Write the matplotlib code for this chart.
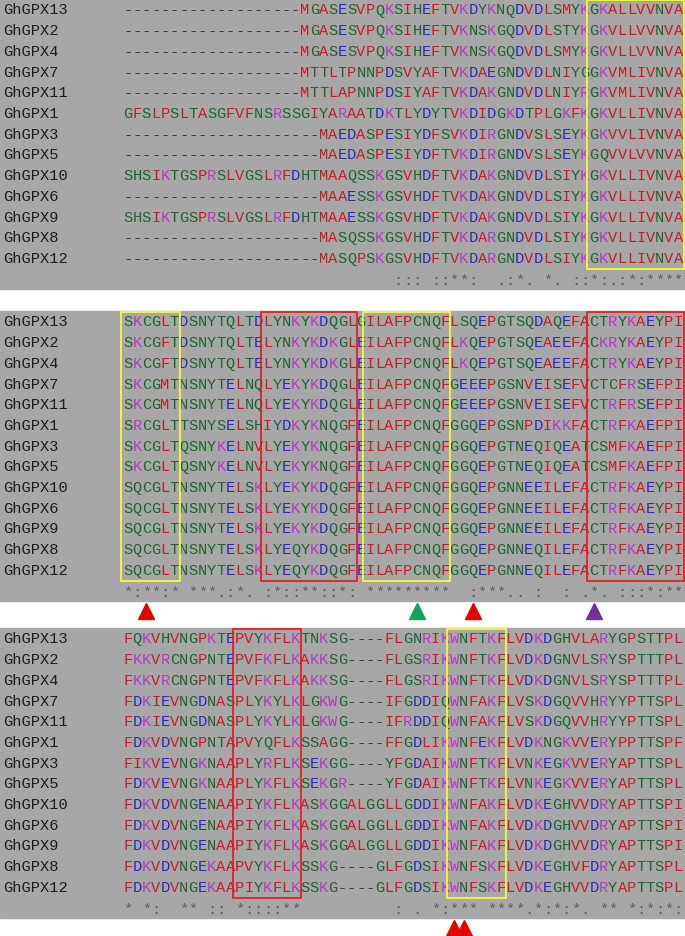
import matplotlib
matplotlib.use('Agg')
import matplotlib.pyplot as plt
from matplotlib.patches import Rectangle

# 序列名称（三段共用）
names = ['GhGPX13', 'GhGPX2', 'GhGPX4', 'GhGPX7', 'GhGPX11', 'GhGPX1', 'GhGPX3',
         'GhGPX5', 'GhGPX10', 'GhGPX6', 'GhGPX9', 'GhGPX8', 'GhGPX12']

# 第一段比对
block1 = [
    '-' * 19 + 'MGASESVPQKSIHEFTVKDYKNQDVDLSMYKGKALLVVNVA',
    '-' * 19 + 'MGASESVPQKSIHEFTVKNSKGQDVDLSTYKGKVLLVVNVA',
    '-' * 19 + 'MGASESVPQKSIHEFTVKNSKGQDVDLSMYKGKVLLVVNVA',
    '-' * 19 + 'MTTLTPNNPDSVYAFTVKDAEGNDVDLNIYGGKVMLIVNVA',
    '-' * 19 + 'MTTLAPNNPDSIYAFTVKDAKGNDVDLNIYRGKVMLIVNVA',
    'GFSLPSLTASGFVFNSRSSGIYARAATDKTLYDYTVKDIDGKDTPLGKFKGKVLLIVNVA',
    '-' * 21 + 'MAEDASPESIYDFSVKDIRGNDVSLSEYKGKVVLIVNVA',
    '-' * 21 + 'MAEDASPESIYDFTVKDIRGNDVSLSEYKGQVVLVVNVA',
    'SHSIKTGSPRSLVGSLRFDHTMAAQSSKGSVHDFTVKDAKGNDVDLSIYKGKVLLIVNVA',
    '-' * 21 + 'MAAESSKGSVHDFTVKDAKGNDVDLSIYKGKVLLIVNVA',
    'SHSIKTGSPRSLVGSLRFDHTMAAESSKGSVHDFTVKDAKGNDVDLSIYKGKVLLIVNVA',
    '-' * 21 + 'MASQSSKGSVHDFTVKDARGNDVDLSIYKGKVLLIVNVA',
    '-' * 21 + 'MASQPSKGSVHDFTVKDARGNDVDLSIYKGKVLLIVNVA',
]
cons1 = ' ' * 29 + '::: ::**:  .:*. *. ::*:.:*:****'

# 第二段比对
block2 = [
    'SKCGLTDSNYTQLTDLYNKYKDQGLGILAFPCNQFLSQEPGTSQDAQEFACTRYKAEYPI',
    'SKCGFTDSNYTQLTELYNKYKDKGLEILAFPCNQFLKQEPGTSQEAEEFACKRYKAEYPI',
    'SKCGFTDSNYTQLTELYNKYKDKGLEILAFPCNQFLKQEPGTSQEAEEFACTRYKAEYPI',
    'SKCGMTNSNYTELNQLYEKYKDQGLEILAFPCNQFGEEEPGSNVEISEFVCTCFRSEFPI',
    'SKCGMTNSNYTELNQLYEKYKDQGLEILAFPCNQFGEEEPGSNVEISEFVCTRFRSEFPI',
    'SRCGLTTSNYSELSHIYDKYKNQGFEILAFPCNQFGGQEPGSNPDIKKFACTRFKAEFPI',
    'SKCGLTQSNYKELNVLYEKYKNQGFEILAFPCNQFGGQEPGTNEQIQEATCSMFKAEFPI',
    'SKCGLTQSNYKELNVLYEKYKNQGFEILAFPCNQFGGQEPGTNEQIQEATCSMFKAEFPI',
    'SQCGLTNSNYTELSKLYEKYKDQGFEILAFPCNQFGGQEPGNNEEILEFACTRFKAEYPI',
    'SQCGLTNSNYTELSKLYEKYKDQGFEILAFPCNQFGGQEPGNNEEILEFACTRFKAEYPI',
    'SQCGLTNSNYTELSKLYEKYKDQGFEILAFPCNQFGGQEPGNNEEILEFACTRFKAEYPI',
    'SQCGLTNSNYTELSKLYEQYKDQGFEILAFPCNQFGGQEPGNNEQILEFACTRFKAEYPI',
    'SQCGLTNSNYTELSKLYEQYKDQGFEILAFPCNQFGGQEPGNNEQILEFACTRFKAEYPI',
]
cons2 = '*:**:* ***.:*. :*::**::*: *********  :***.. :  : .*. :::*:**'

# 第三段比对
block3 = [
    'FQKVHVNGPKTEPVYKFLKTNKSG----FLGNRIKWNFTKFLVDKDGHVLARYGPSTTPL',
    'FKKVRCNGPNTEPVFKFLKAKKSG----FLGSRIKWNFTKFLVDKDGNVLSRYSPTTTPL',
    'FKKVRCNGPNTEPVFKFLKAKKSG----FLGSRIKWNFTKFLVDKDGNVLSRYSPTTTPL',
    'FDKIEVNGDNASPLYKYLKLGKWG----IFGDDIQWNFAKFLVSKDGQVVHRYYPTTSPL',
    'FDKIEVNGDNASPLYKYLKLGKWG----IFRDDIQWNFAKFLVSKDGQVVHRYYPTTSPL',
    'FDKVDVNGPNTAPVYQFLKSSAGG----FFGDLIKWNFEKFLVDKNGKVVERYPPTTSPF',
    'FIKVEVNGKNAAPLYRFLKSEKGG----YFGDAIKWNFTKFLVNKEGKVVERYAPTTSPL',
    'FDKVEVNGKNAAPLYKFLKSEKGR----YFGDAIKWNFTKFLVNKEGKVVERYAPTTSPL',
    'FDKVDVNGENAAPIYKFLKASKGGALGGLLGDDIKWNFAKFLVDKEGHVVDRYAPTTSPI',
    'FDKVDVNGENAAPIYKFLKASKGGALGGLLGDDIKWNFAKFLVDKDGHVVDRYAPTTSPI',
    'FDKVDVNGENAAPIYKFLKASKGGALGGLLGDDIKWNFAKFLVDKDGHVVDRYAPTTSPI',
    'FDKVDVNGEKAAPVYKFLKSSKG----GLFGDSIKWNFSKFLVDKEGHVFDRYAPTTSPL',
    'FDKVDVNGEKAAPIYKFLKSSKG----GLFGDSIKWNFSKFLVDKEGHVVDRYAPTTSPL',
]
cons3 = '* *:  ** :: *::::**' + ' ' * 10 + ': . *:*** ****.*:*:*. ** *:*:*:'

# 方框（起始列, 结束列, 颜色）和箭头（列, 颜色）
boxes1 = [(50, 60, 'y')]
boxes2 = [(0, 6, 'y'), (15, 25, 'r'), (26, 35, 'y'), (50, 60, 'r')]
boxes3 = [(12, 19, 'r'), (35, 41, 'y')]
arrows1 = []
arrows2 = [(2, 'r'), (31, 'g'), (37, 'r'), (50, 'p')]
arrows3 = [(35, 'r'), (36, 'r')]

RED = '#c41e26'
BLUE = '#2a2ab4'
MAG = '#b43cbe'
GREEN = '#1e6432'
box_col = {'y': '#ffff2a', 'r': '#e8141c'}
arrow_col = {'r': '#e60000', 'g': '#13a356', 'p': '#7132a0'}


def res_color(ch):
    if ch in 'AVFPMIL':
        return RED
    if ch in 'DE':
        return BLUE
    if ch in 'RKW':
        return MAG
    if ch == '-':
        return '#3c3c3c'
    return GREEN


cw = 9.33      # 每列像素宽
x0 = 123       # 序列起始像素
pitch = 20.7
font = dict(family='Liberation Mono', fontsize=11.1)

fig = plt.figure(figsize=(6.85, 9.37), dpi=100)
ax = fig.add_axes([0, 0, 1, 1])
ax.set_xlim(-x0 / cw, (685 - x0) / cw)
ax.set_ylim(937, 0)
ax.axis('off')

blocks = [(block1, cons1, boxes1, arrows1, 0),
          (block2, cons2, boxes2, arrows2, 312),
          (block3, cons3, boxes3, arrows3, 629)]

for seqs, cons, boxes, arrows, top in blocks:
    ax.add_patch(Rectangle((-x0 / cw, top), 685 / cw, 290, color='#a7a7a7', zorder=0))
    for i, (name, seq) in enumerate(zip(names, seqs)):
        y = top + 10.5 + i * pitch
        ax.text(3 / cw - x0 / cw, y, name, color='#1c1c1c', ha='left', va='center', **font)
        for c, ch in enumerate(seq):
            ax.text(c + 0.5, y, ch, color=res_color(ch), ha='center', va='center', **font)
    yc = top + 12 + len(names) * pitch
    for c, ch in enumerate(cons):
        if ch != ' ':
            ax.text(c + 0.5, yc, ch, color='#5e5e5e', ha='center', va='center', **font)
    for c0, c1, k in boxes:
        ax.add_patch(Rectangle((c0 - 0.25, top + 1), c1 - c0 + 0.35, 269,
                               fill=False, edgecolor=box_col[k], lw=1.2, zorder=3))
    for c, k in arrows:
        ax.plot(c + 0.5, top + 300, marker='^', ms=11, color=arrow_col[k], zorder=4)

fig.savefig('out.png', dpi=100)
